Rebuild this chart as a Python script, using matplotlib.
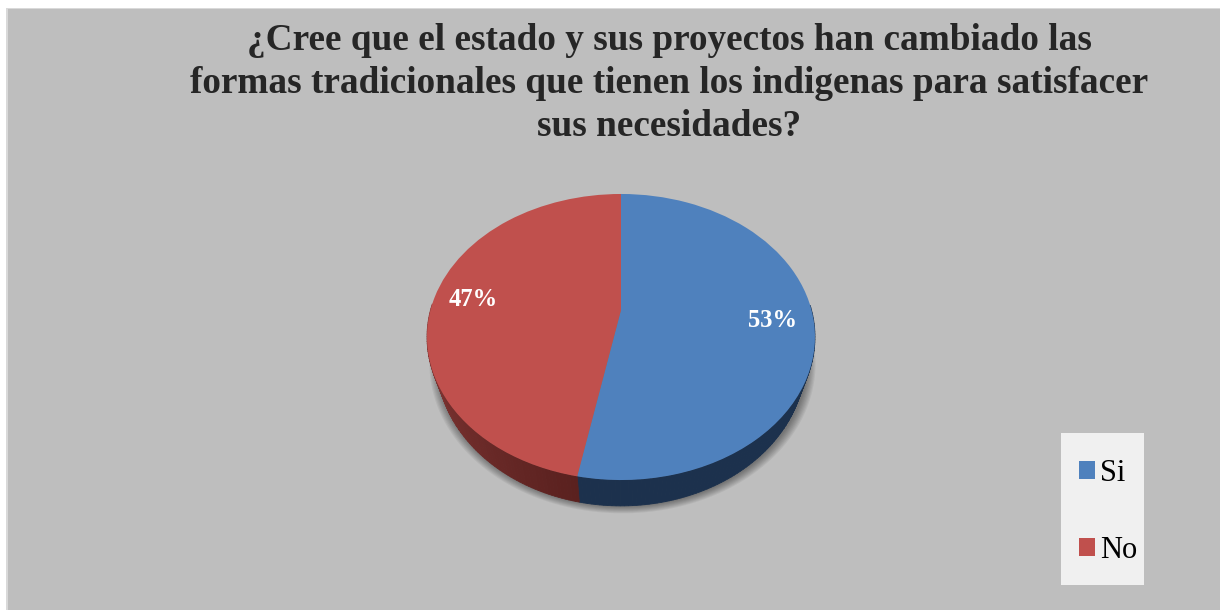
#!/usr/bin/env python3
"""
Pie chart with the tilted 3D look of the office original
"""

import matplotlib
matplotlib.use('Agg')
import matplotlib.pyplot as plt
import numpy as np
from matplotlib.patches import Rectangle
from matplotlib.transforms import Transform

TITLE = ("¿Cree que el estado y sus proyectos han cambiado las\n"
         "formas tradicionales que tienen los indigenas para satisfacer\n"
         "sus necesidades?")
LABELS = ['Si', 'No']
VALUES = [53, 47]
COLORS = ['#4F81BD', '#C0504D']

# Pie placement on the canvas, in pixels
CX, CY = 621, 310
RX = 190.5
TILT_A, TILT_C = -79.4, 0.1888
MID_Y = 337

plt.rcParams['font.family'] = ['Liberation Serif', 'DejaVu Serif']


class Perspective(Transform):
    """Maps the unit disc of the pie onto the tilted disc in pixels"""
    input_dims = 2
    output_dims = 2

    def __init__(self, dy=0, sx=1.0, sy=1.0):
        super().__init__()
        self.dy = dy
        self.sx = sx
        self.sy = sy

    def transform_non_affine(self, values):
        values = np.asarray(values)
        u, v = values[:, 0], values[:, 1]
        w = 1 + TILT_C * v
        x = RX * u / w
        y = (TILT_A * v + CY) / w - MID_Y
        return np.column_stack([CX + x * self.sx,
                                MID_Y + y * self.sy + self.dy])


def wall_colors(first, last, n):
    return np.linspace(matplotlib.colors.to_rgb(first),
                       matplotlib.colors.to_rgb(last), n)


fig = plt.figure(figsize=(12.2, 6.1), dpi=100, facecolor='white')
ax = fig.add_axes([0, 0, 1, 1])

persp = Perspective()
wedges, texts, autotexts = ax.pie(
    VALUES, colors=COLORS, startangle=90, counterclock=False,
    autopct='%1.0f%%', pctdistance=0.79, radius=1,
    textprops=dict(color='white', fontsize=17.7, fontweight='bold'))
for w in wedges:
    w.set_transform(persp + ax.transData)
    w.set_zorder(5)
for t in autotexts:
    t.set_transform(persp + ax.transData)
    t.set_zorder(6)

ax.set_xlim(0, 1220)
ax.set_ylim(610, 0)
ax.set_aspect('auto')
ax.axis('on')
ax.set_xticks([])
ax.set_yticks([])
for s in ax.spines.values():
    s.set_visible(False)
ax.patch.set_alpha(0)

# Chart area, light edge only on the top and left
ax.add_patch(Rectangle((6, 8), 1300, 700, facecolor='#D9D9D9', lw=0, zorder=0))
ax.add_patch(Rectangle((8, 9), 1300, 700, facecolor='#BEBEBE', lw=0, zorder=0.1))

# Soft shadow under the pie
full = np.linspace(0, 2 * np.pi, 240)
ring = np.column_stack([np.cos(full), np.sin(full)])
for i in range(8, 0, -1):
    pts = Perspective(dy=23 + i * 0.5, sx=0.951 + i * 0.0055,
                      sy=1.02 + i * 0.003).transform(ring)
    pts = pts + [1.5, 0]
    ax.fill(pts[:, 0], pts[:, 1], color='black', alpha=0.055, lw=0, zorder=1)

# Side wall, split at the wedge boundaries
fractions = np.array(VALUES) / sum(VALUES)
edges = 90 - 360 * np.concatenate([[0], np.cumsum(fractions)])
wall_ends = [('#1C314D', '#1C314D'), ('#5A211F', '#8A3B39')]
top = Perspective()
low = Perspective(dy=23, sx=0.951, sy=1.02)
for k in range(len(VALUES)):
    th = np.radians(np.linspace(edges[k], edges[k + 1], 181))
    th = th[np.sin(th) < 0.05]
    cols = wall_colors(wall_ends[k][0], wall_ends[k][1], len(th))
    rim = np.column_stack([np.cos(th), np.sin(th)])
    p_top, p_low = top.transform(rim), low.transform(rim)
    for j in range(len(th) - 1):
        quad = np.vstack([p_top[j:j + 2], p_low[j:j + 2][::-1]])
        ax.fill(quad[:, 0], quad[:, 1], color=cols[j], lw=0.6, zorder=3)

# Title
ax.text(669, 83.5, TITLE, ha='center', va='center', fontsize=26.8,
        fontweight='bold', color='#262626', linespacing=1.31, zorder=6)

# Legend
ax.add_patch(Rectangle((1061, 433), 83, 152, facecolor='#F0F0F0',
                       edgecolor='none', zorder=2))
ax.legend(wedges, LABELS, loc='upper left', frameon=False,
          bbox_to_anchor=(1079, 459), bbox_transform=ax.transData,
          borderpad=0, borderaxespad=0, fontsize=22, handlelength=0.52,
          handleheight=0.52, handletextpad=0.16, labelspacing=1.57)

fig.savefig('out.png', dpi=100, facecolor='white')
plt.close(fig)
